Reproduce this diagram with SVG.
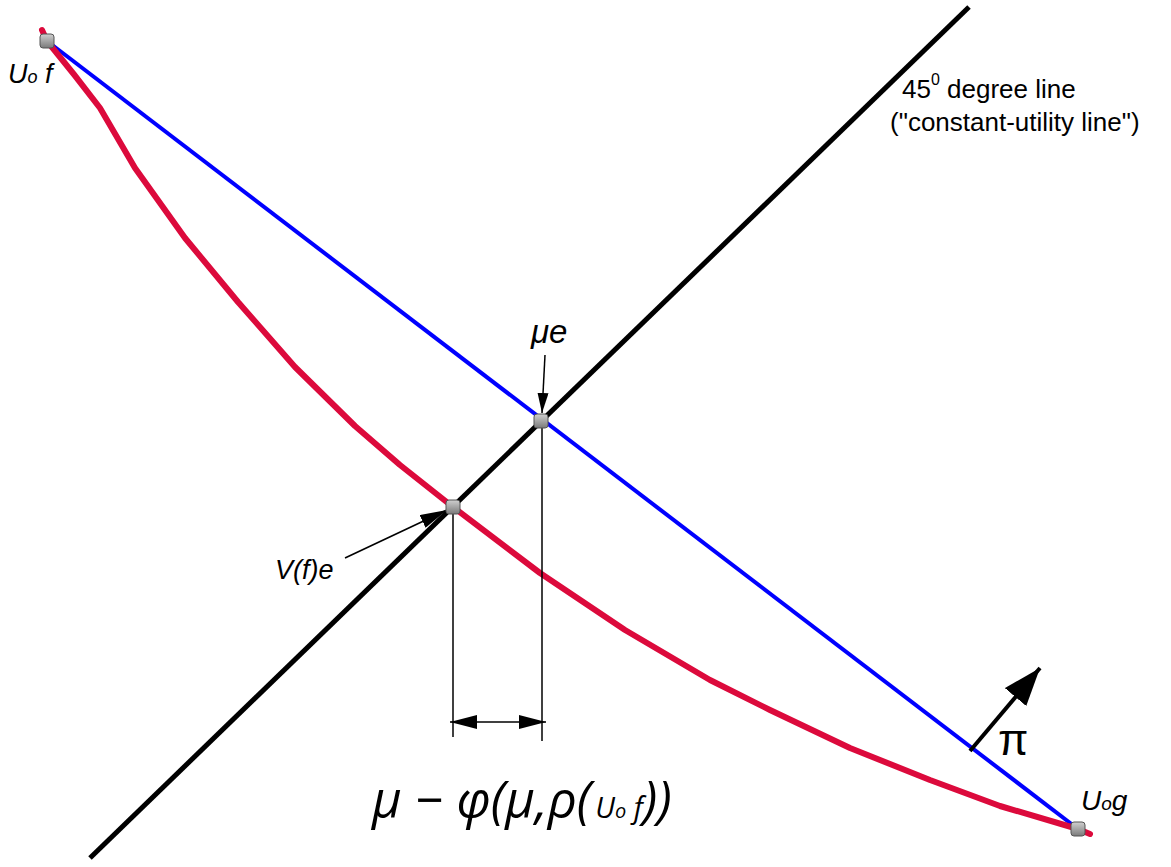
<svg xmlns="http://www.w3.org/2000/svg" width="1171" height="867" viewBox="0 0 1171 867">
<style>
.lbl{font-family:"Liberation Sans",Arial,sans-serif;font-style:italic;fill:#000}
.plain{font-family:"Liberation Sans",Arial,sans-serif;fill:#000}
.thin{stroke:#000;stroke-width:1.5;fill:none}
</style>
<defs>
<linearGradient id="g" x1="0" y1="0" x2="0" y2="1"><stop offset="0" stop-color="#d0d0d0"/><stop offset="1" stop-color="#7a7a7a"/></linearGradient>
<marker id="ahb" viewBox="0 0 27 14" refX="27" refY="7" markerWidth="27" markerHeight="14" markerUnits="userSpaceOnUse" orient="auto-start-reverse"><path d="M0,0 L27,7 L0,14 z" fill="#000"/></marker>
<marker id="ahs" viewBox="0 0 20 11" refX="20" refY="5.5" markerWidth="20" markerHeight="11" markerUnits="userSpaceOnUse" orient="auto"><path d="M0,0 L20,5.5 L0,11 z" fill="#000"/></marker>
<marker id="ahp" viewBox="0 0 38 28" refX="38" refY="14" markerWidth="38" markerHeight="28" markerUnits="userSpaceOnUse" orient="auto"><path d="M0,0 L38,14 L0,28 z" fill="#000"/></marker>
</defs>
<g id="connectors">
<line x1="90" y1="858" x2="969" y2="7" stroke="#000" stroke-width="5"/>
<line x1="47" y1="41" x2="1078" y2="829" stroke="#0000ff" stroke-width="4"/>
<path d="M42,30 L47,41 Q75,75 100,108 L135,168 L185,238 L238,302 L295,367 L355,426 L400,465 L453,507 L540,573 L625,630 L710,680 L770,710 L850,748 L930,780 L1000,806 L1078,829 L1090,834" fill="none" stroke="#dc0a3c" stroke-width="6" stroke-linecap="round" stroke-linejoin="round"/>
<line class="thin" x1="453" y1="507" x2="453" y2="737"/>
<line class="thin" x1="542" y1="421" x2="542" y2="741"/>
<line class="thin" x1="450" y1="722" x2="546" y2="722" marker-start="url(#ahb)" marker-end="url(#ahb)"/>
<line class="thin" x1="545" y1="355" x2="542" y2="413" marker-end="url(#ahs)"/>
<line class="thin" x1="345" y1="558" x2="447" y2="510" marker-end="url(#ahb)"/>
<line x1="970" y1="751" x2="1040" y2="668" stroke="#000" stroke-width="4" marker-end="url(#ahp)"/>
</g>
<g id="node-uof">
<rect x="40" y="34" width="14" height="14" rx="3" fill="url(#g)" stroke="#555" stroke-width="1"/>
<text class="lbl" x="8" y="83" font-size="27">U<tspan font-size="18">o</tspan> f</text>
</g>
<g id="node-mue">
<rect x="534" y="414" width="14" height="14" rx="3" fill="url(#g)" stroke="#555" stroke-width="1"/>
<text class="lbl" x="531" y="343" font-size="33">μe</text>
</g>
<g id="node-vfe">
<rect x="446" y="500" width="14" height="14" rx="3" fill="url(#g)" stroke="#555" stroke-width="1"/>
<text class="lbl" x="275" y="579" font-size="27">V(f)e</text>
</g>
<g id="node-uog">
<rect x="1071" y="822" width="14" height="14" rx="3" fill="url(#g)" stroke="#555" stroke-width="1"/>
<text class="lbl" x="1081" y="810" font-size="28">U<tspan font-size="19">o</tspan>g</text>
</g>
<g id="label-45">
<text class="plain" x="902" y="98" font-size="26">45<tspan font-size="16" dy="-13">0</tspan><tspan dy="13"> degree line</tspan></text>
<text class="plain" x="890" y="131" font-size="26">("constant-utility line")</text>
</g>
<g id="label-pi">
<text class="plain" x="998" y="755" font-size="44" font-family="'DejaVu Sans',sans-serif">π</text>
</g>
<g id="label-formula">
<text x="372" y="818" font-size="51" font-style="italic" font-family="'Open Sans','Noto Sans',sans-serif">μ − φ(μ,ρ(<tspan font-size="29" dx="4">U</tspan><tspan font-size="20">o</tspan><tspan font-size="29"> f</tspan>))</text>
</g>
</svg>
